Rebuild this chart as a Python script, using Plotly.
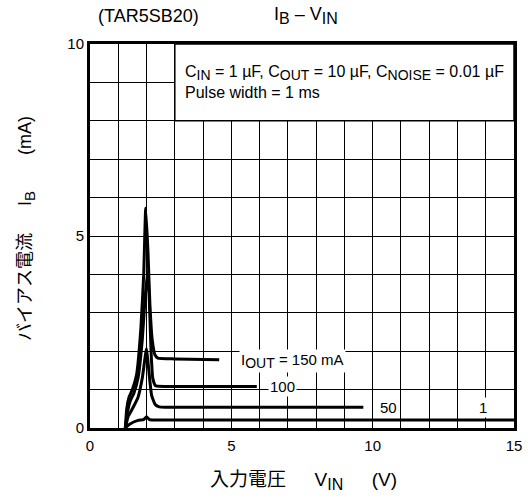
import plotly.graph_objects as go

# ---------------------------------------------------------------
# Data (I_B vs V_IN, TAR5SB20)
# ---------------------------------------------------------------
vin_150 = [1.25, 1.30, 1.38, 1.50, 1.65, 1.80, 1.90, 1.97, 2.05, 2.12, 2.20, 2.30, 2.40, 3.00, 4.57]
ib_150 = [0.00, 0.50, 0.80, 1.00, 1.40, 2.60, 4.00, 5.72, 4.60, 3.20, 2.30, 1.90, 1.82, 1.80, 1.78]

vin_100 = [1.25, 1.32, 1.42, 1.55, 1.70, 1.85, 1.95, 2.04, 2.10, 2.16, 2.22, 2.32, 3.00, 5.90]
ib_100 = [0.00, 0.40, 0.70, 0.90, 1.30, 2.30, 3.40, 4.07, 3.30, 2.00, 1.30, 1.10, 1.08, 1.08]

vin_50 = [1.25, 1.35, 1.50, 1.70, 1.85, 2.00, 2.08, 2.18, 2.30, 2.45, 4.00, 9.67]
ib_50 = [0.00, 0.30, 0.50, 0.80, 1.30, 2.07, 1.50, 0.85, 0.62, 0.55, 0.54, 0.54]

vin_1 = [1.25, 1.40, 1.70, 1.90, 2.00, 2.10, 2.30, 15.0]
ib_1 = [0.00, 0.10, 0.20, 0.22, 0.29, 0.22, 0.21, 0.21]

series = [(vin_150, ib_150), (vin_100, ib_100), (vin_50, ib_50), (vin_1, ib_1)]

x_ticks = [0, 5, 10, 15]
y_ticks = [0, 5, 10]

curve_labels = ["I<sub>OUT</sub> = 150 mA", "100", "50", "1"]
label_x = [7.18, 6.8, 10.55, 13.9]
label_y = [1.74, 1.07, 0.53, 0.53]

font_main = "Liberation Sans, Arial, Noto Sans CJK JP, sans-serif"

# figure geometry (pixels)
W, H = 528, 499
ML, MR, MT, MB = 90, 14, 44, 71
PW, PH = W - ML - MR, H - MT - MB


def px_x(px):
    return (px - ML) / PW


def px_y(py):
    return (H - MB - py) / PH


def sub(txt, size=13):
    return f"<sub><span style='font-size:{size}px'>{txt}</span></sub>"


fig = go.Figure()

for vx, iy in series:
    fig.add_trace(
        go.Scatter(
            x=vx,
            y=iy,
            mode="lines",
            line=dict(color="black", width=3, shape="spline", smoothing=0.4),
            showlegend=False,
            hoverinfo="skip",
        )
    )

# White box with test conditions (covers grid in top-right)
fig.add_shape(
    type="rect",
    x0=3, x1=15, y0=8, y1=10,
    xref="x", yref="y",
    fillcolor="white",
    line=dict(color="black", width=1.5),
    layer="above",
)
fig.add_annotation(
    x=3.3, y=9.0, xref="x", yref="y",
    xanchor="left", yanchor="middle", align="left",
    text=f"C{sub('IN', 14)} = 1 µF, C{sub('OUT', 14)} = 10 µF, C{sub('NOISE', 14)} = 0.01 µF"
    "<br>Pulse width = 1 ms",
    showarrow=False,
    font=dict(size=16, color="black", family=font_main),
)

for txt, lx, ly in zip(curve_labels, label_x, label_y):
    txt = txt.replace("<sub>OUT</sub>", sub("OUT", 14))
    fig.add_annotation(
        x=lx, y=ly, xref="x", yref="y",
        text=txt, showarrow=False,
        bgcolor="white", borderpad=1,
        font=dict(size=15, color="black", family=font_main),
    )

# Titles
fig.add_annotation(
    x=px_x(148), y=px_y(16), xref="paper", yref="paper",
    xanchor="center", yanchor="middle", text="(TAR5SB20)", showarrow=False,
    font=dict(size=18, color="black", family=font_main),
)
fig.add_annotation(
    x=px_x(306), y=px_y(16), xref="paper", yref="paper",
    xanchor="center", yanchor="middle", text=f"I{sub('B', 16)} – V{sub('IN', 16)}", showarrow=False,
    font=dict(size=18, color="black", family=font_main),
)

# Axis titles
fig.add_annotation(
    x=px_x(303), y=px_y(481), xref="paper", yref="paper",
    xanchor="center", yanchor="middle", showarrow=False,
    text=f"入力電圧\u2003\u2002V{sub('IN', 16)}\u2003\u2002(V)",
    font=dict(size=19, color="black", family=font_main),
)
fig.add_annotation(
    x=px_x(26), y=px_y(229), xref="paper", yref="paper",
    xanchor="center", yanchor="middle", textangle=-90, showarrow=False,
    text=f"バイアス電流\u2003\u2002I{sub('B', 15)}\u2003\u2003(mA)",
    font=dict(size=18, color="black", family=font_main),
)

grid = dict(
    ticks="",
    showgrid=True,
    gridcolor="black",
    gridwidth=1.3,
    minor=dict(dtick=1, showgrid=True, gridcolor="black", gridwidth=1.3),
    zeroline=False,
    showline=True,
    linecolor="black",
    linewidth=3,
    mirror=True,
    automargin=False,
    tickfont=dict(size=15),
)

fig.update_layout(
    width=W,
    height=H,
    margin=dict(l=ML, r=MR, t=MT, b=MB),
    plot_bgcolor="white",
    paper_bgcolor="white",
    font=dict(family=font_main, size=15, color="black"),
    xaxis=dict(range=[0, 15], tickvals=x_ticks, ticklabelstandoff=2, **grid),
    yaxis=dict(range=[0, 10], tickvals=y_ticks, ticklabelstandoff=0, **grid),
)

fig.write_html(
    "out.html",
    config={"displayModeBar": False},
    post_script="document.body.style.margin='0';",
)
